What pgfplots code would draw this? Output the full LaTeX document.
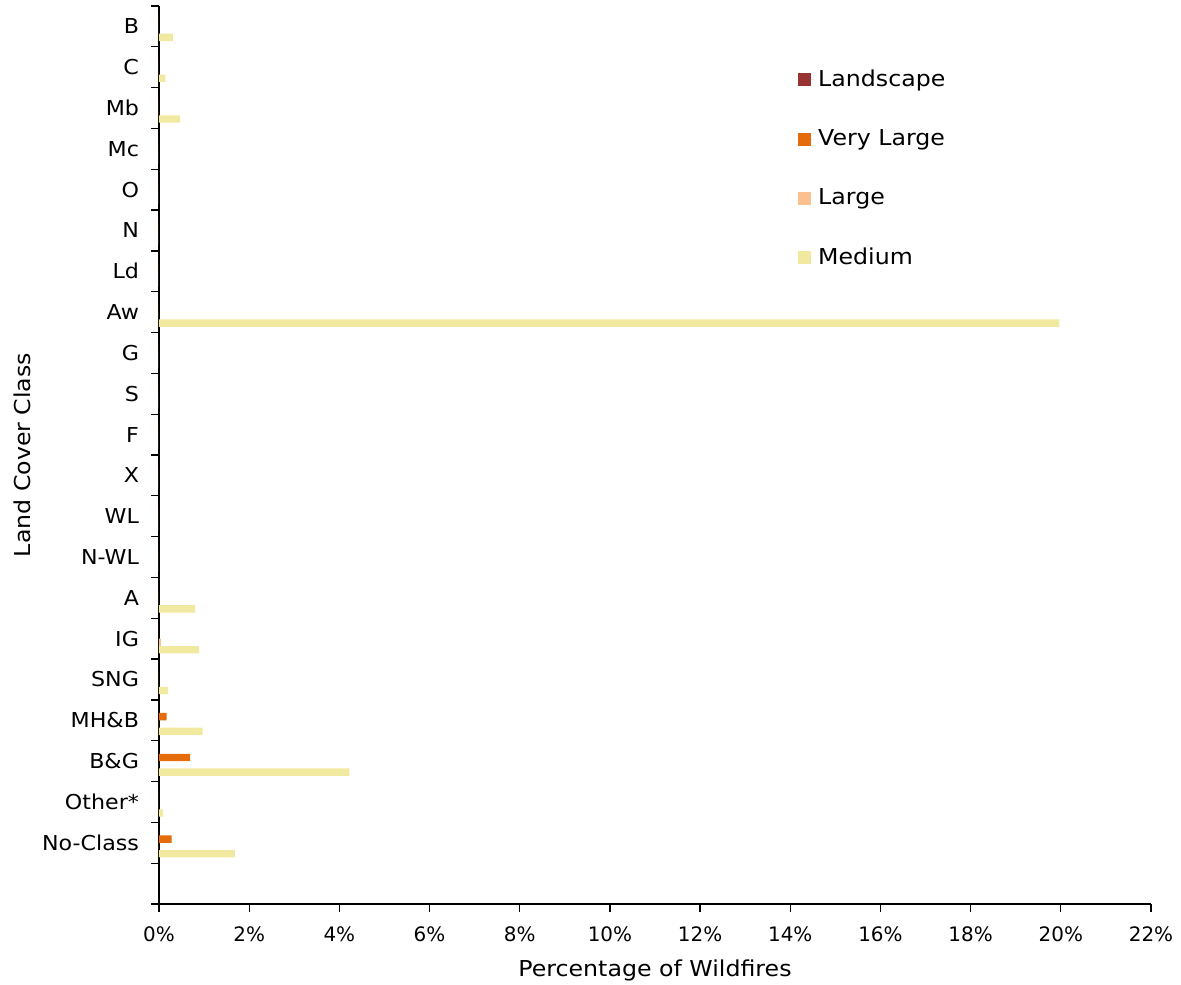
\documentclass[border=0pt]{standalone}
\usepackage{pgfplots}
\pgfplotsset{compat=1.18}
\usepackage{pgfplotstable}
\usepackage{fontspec}
\setmainfont{DejaVu Sans}
\newfontfamily\widefont[FakeStretch=1.08]{DejaVu Sans}
\definecolor{landscape}{HTML}{993333}
\definecolor{vlarge}{HTML}{E46C0A}
\definecolor{large}{HTML}{FAC090}
\definecolor{medium}{HTML}{F2E9A0}

\pgfplotstableread{
pos  land vl   large med
1.5  0    0.28 0     1.68
2.5  0    0    0     0.09
3.5  0    0.69 0     4.22
4.5  0    0.17 0     0.97
5.5  0    0    0     0.20
6.5  0    0    0.04  0.89
7.5  0    0    0     0.80
8.5  0    0    0     0
9.5  0    0    0     0
10.5 0    0    0     0
11.5 0    0    0     0
12.5 0    0    0     0
13.5 0    0    0     0
14.5 0    0    0     19.97
15.5 0    0    0     0
16.5 0    0    0     0
17.5 0    0    0     0
18.5 0    0    0     0
19.5 0    0    0     0.47
20.5 0    0    0     0.14
21.5 0    0    0     0.31
}\datatable

\begin{document}
\begin{tikzpicture}
\useasboundingbox (-79.5bp,-40.5bp) rectangle (511bp,452bp);
\begin{axis}[
  at={(0,0)}, anchor=south west,
  scale only axis, width=496bp, height=449bp,
  xmin=0, xmax=22, ymin=0, ymax=22,
  enlargelimits=false,
  axis x line*=bottom, axis y line*=left,
  axis line style={-, line width=0.6bp, black},
  tick align=outside,
  major tick length=4bp,
  tick style={line width=0.6bp, black},
  xtick={0,2,...,22},
  /pgf/number format/assume math mode=true,
  xticklabel={\pgfmathprintnumber{\tick}\%},
  xticklabel style={font=\fontsize{10}{12}\selectfont, yshift=-4bp},
  ytick={0,1,...,22}, yticklabels={},
  extra y ticks={1.5,2.5,3.5,4.5,5.5,6.5,7.5,8.5,9.5,10.5,11.5,12.5,13.5,14.5,15.5,16.5,17.5,18.5,19.5,20.5,21.5},
  extra y tick labels={No-Class,Other*,B\&G,MH\&B,SNG,IG,A,N-WL,WL,X,F,S,G,Aw,Ld,N,O,Mc,Mb,C,B},
  extra y tick style={tick style={draw=none}, yticklabel style={font=\widefont\fontsize{10.3}{12}\selectfont, xshift=-2.5bp}},
  xlabel={Percentage of Wildfires},
  ylabel={Land Cover Class},
  label style={font=\widefont\fontsize{11}{13}\selectfont},
  xlabel style={at={(axis description cs:0.5,-0.0745)}, anchor=center},
  ylabel style={at={(axis description cs:-0.138,0.5)}, anchor=center},
  legend style={draw=none, fill=none, at={(axis description cs:0.644,0.9335)}, anchor=north west,
    row sep=16bp, font=\widefont\fontsize{11}{13}\selectfont, inner sep=0pt},
  legend cell align=left,
  legend image code/.code={\fill[#1] (0bp,-3.25bp) rectangle (6.5bp,3.25bp); \path (0bp,0bp) -- (8bp,0bp);},
]
\addplot[xbar, bar width=0.18, bar shift=0.27, fill=landscape, draw=none] table[x=land, y=pos] {\datatable};
\addlegendentry{Landscape}
\addplot[xbar, bar width=0.18, bar shift=0.09, fill=vlarge, draw=none] table[x=vl, y=pos] {\datatable};
\addlegendentry{Very Large}
\addplot[xbar, bar width=0.18, bar shift=-0.09, fill=large, draw=none] table[x=large, y=pos] {\datatable};
\addlegendentry{Large}
\addplot[xbar, bar width=0.18, bar shift=-0.27, fill=medium, draw=none] table[x=med, y=pos] {\datatable};
\addlegendentry{Medium}
\end{axis}
\end{tikzpicture}
\end{document}
